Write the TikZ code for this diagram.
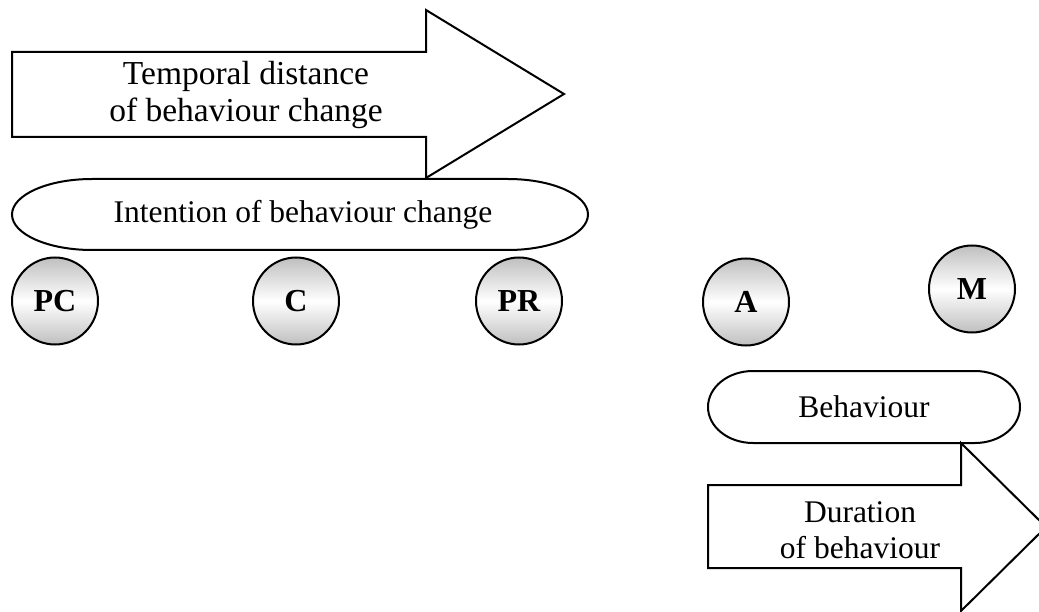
\documentclass[tikz,border=0pt]{standalone}
\usepackage{fontspec}
\setmainfont{Liberation Serif}
\usetikzlibrary{shapes.geometric}
\begin{document}
\begin{tikzpicture}[x=1pt,y=-1pt,line width=2pt,line join=miter,
  outline/.style={draw=black,fill=white},
  label/.style={inner sep=0pt,align=center,font=\fontsize{31.5}{36}\selectfont},
  stage/.style={draw=black,ellipse,minimum width=86pt,minimum height=87pt,inner sep=0pt,
    top color=gray!50,bottom color=gray!50,middle color=white,
    font=\fontsize{32}{36}\selectfont\bfseries}]
\useasboundingbox (0,0) rectangle (1039,612);
\clip (0,0) rectangle (1039,612);

% time arrow of the intention
\draw[outline] (12,52) -- (426,52) -- (426,10) -- (564,94) -- (426,178) -- (426,137) -- (12,137) -- cycle;
\node[label,font=\fontsize{33.5}{37}\selectfont] (temporal) at (246,95) {Temporal distance\\of behaviour change};

% intention band (y axis points down, so -90 is the top of each cap)
\draw[outline] (92,179) -- (508,179) arc[start angle=-90,end angle=90,x radius=80,y radius=35.5]
  -- (92,250) arc[start angle=90,end angle=270,x radius=80,y radius=35.5] -- cycle;
\node[label] (intention) at (303,214.5) {Intention of behaviour change};

% stages
\node[stage] (pc) at (55,301) {PC};
\node[stage] (c) at (296,301) {C};
\node[stage] (pr) at (519,301) {PR};
\node[stage] (a) at (746,302) {A};
\node[stage] (m) at (972,289) {M};

% behaviour band
\draw[outline] (753,371) -- (975,371) arc[start angle=-90,end angle=90,x radius=45,y radius=36]
  -- (753,443) arc[start angle=90,end angle=270,x radius=45,y radius=36] -- cycle;
\node[label] (behaviour) at (864,407) {Behaviour};

% duration arrow
\draw[outline] (708,485) -- (961,485) -- (961,443) -- (1046,527) -- (961,611) -- (961,568) -- (708,568) -- cycle;
\node[label] (duration) at (860,530) {Duration\\of behaviour};
\end{tikzpicture}
\end{document}
